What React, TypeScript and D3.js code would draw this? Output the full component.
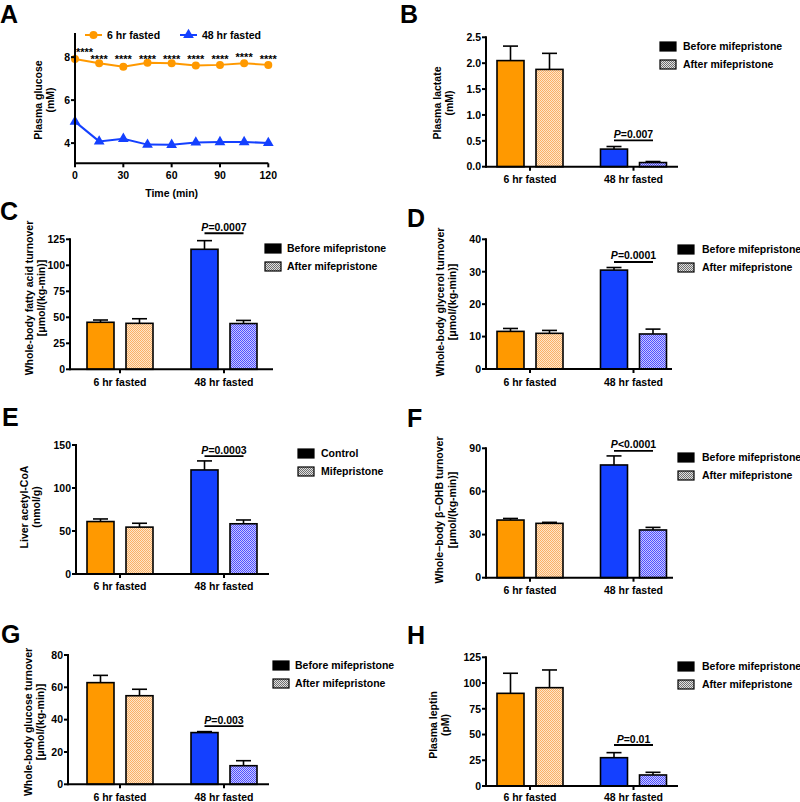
import React from "react";
import * as d3 from "d3";

// ---------- Panel A data ----------
const timePoints = [0, 15, 30, 45, 60, 75, 90, 105, 120];
const glucose6h = [7.91, 7.72, 7.55, 7.74, 7.72, 7.61, 7.64, 7.71, 7.64];
const glucose6hErr = [0.03, 0.03, 0.08, 0.03, 0.03, 0.04, 0.03, 0.03, 0.03];
const glucose48h = [5.0, 4.08, 4.2, 3.93, 3.92, 4.03, 4.05, 4.05, 4.01];
const starLevels = [8.35, 8.0, 8.0, 8.0, 8.0, 8.0, 8.0, 8.12, 8.0];
const glucoseTicks = [4, 6, 8];
const timeTicks = [0, 30, 60, 90, 120];
const seriesA = ["6 hr fasted", "48 hr fasted"];

// ---------- Bar panels data ----------
const groups = ["6 hr fasted", "48 hr fasted"];
const treatments = ["before", "after"];

const lactateBefore = [2.05, 0.34];
const lactateBeforeErr = [0.28, 0.05];
const lactateAfter = [1.88, 0.08];
const lactateAfterErr = [0.31, 0.02];

const faBefore = [45.2, 115.4];
const faBeforeErr = [2.2, 8.3];
const faAfter = [44.2, 44.0];
const faAfterErr = [4.4, 3.0];

const glycBefore = [11.6, 30.5];
const glycBeforeErr = [0.9, 0.8];
const glycAfter = [11.0, 10.8];
const glycAfterErr = [0.9, 1.5];

const acoaBefore = [61.0, 121.0];
const acoaBeforeErr = [3.0, 10.5];
const acoaAfter = [54.5, 58.4];
const acoaAfterErr = [4.5, 4.4];

const ohbBefore = [40.1, 78.4];
const ohbBeforeErr = [1.1, 6.3];
const ohbAfter = [37.8, 33.2];
const ohbAfterErr = [0.7, 1.8];

const glcBefore = [62.9, 32.0];
const glcBeforeErr = [4.5, 0.6];
const glcAfter = [54.8, 11.5];
const glcAfterErr = [4.0, 3.1];

const leptinBefore = [90.0, 27.5];
const leptinBeforeErr = [19.5, 4.9];
const leptinAfter = [95.5, 10.7];
const leptinAfterErr = [17.2, 2.6];

const ticksB = [0, 0.5, 1.0, 1.5, 2.0, 2.5];
const ticksC = [0, 25, 50, 75, 100, 125];
const ticksD = [0, 10, 20, 30, 40];
const ticksE = [0, 50, 100, 150];
const ticksF = [0, 30, 60, 90];
const ticksG = [0, 20, 40, 60, 80];
const ticksH = [0, 25, 50, 75, 100, 125];

const legendMife = ["Before mifepristone", "After mifepristone"];
const legendCtrl = ["Control", "Mifepristone"];

const pLabels = ["=0.007", "=0.0007", "=0.0001", "=0.0003", "<0.0001", "=0.003", "=0.01"];
const pLevels = [0.51, 130.8, 33, 137, 88.2, 36, 39.8];

const FONT = "'Liberation Sans', Arial, Helvetica, sans-serif";
const ORANGE = "#ff9900";
const BLUE = "#1440ff";

const panels = [
  { letter: "B", lx: 400, ly: 23, before: lactateBefore, beforeErr: lactateBeforeErr, after: lactateAfter, afterErr: lactateAfterErr,
    ticks: ticksB, fmt: ".1f", yMax: 2.5, axisX: 486, y0: 166.7, yTop: 37.3, xEnd: 678, c1: 530, c2: 633.5, catY: 182.5,
    legend: legendMife, legX: 660, legY: 42, legTx: 683, yLab: ["Plasma lactate", "(mM)"], yLabX: [437, 449], yLabCy: 103, p: pLabels[0], pLevel: pLevels[0] },
  { letter: "C", lx: 0, ly: 220, before: faBefore, beforeErr: faBeforeErr, after: faAfter, afterErr: faAfterErr,
    ticks: ticksC, fmt: "d", yMax: 125, axisX: 70, y0: 369.3, yTop: 239.3, xEnd: 273, c1: 120, c2: 224, catY: 385.5,
    legend: legendMife, legX: 265, legY: 244, legTx: 287, yLab: ["Whole-body fatty acid turnover", "[\u03bcmol/(kg-min)]"], yLabX: [29, 41], yLabCy: 298, p: pLabels[1], pLevel: pLevels[1] },
  { letter: "D", lx: 407, ly: 227, before: glycBefore, beforeErr: glycBeforeErr, after: glycAfter, afterErr: glycAfterErr,
    ticks: ticksD, fmt: "d", yMax: 40, axisX: 486, y0: 369, yTop: 239.3, xEnd: 672, c1: 530, c2: 633.5, catY: 385.5,
    legend: legendMife, legX: 678, legY: 245, legTx: 702, yLab: ["Whole-body glycerol turnover", "[\u03bcmol/(kg-min)]"], yLabX: [440, 452], yLabCy: 302, p: pLabels[2], pLevel: pLevels[2] },
  { letter: "E", lx: 2, ly: 426, before: acoaBefore, beforeErr: acoaBeforeErr, after: acoaAfter, afterErr: acoaAfterErr,
    ticks: ticksE, fmt: "d", yMax: 150, axisX: 76, y0: 574, yTop: 445, xEnd: 269, c1: 120, c2: 224, catY: 589.5,
    legend: legendCtrl, legX: 298, legY: 449, legTx: 321, yLab: ["Liver acetyl-CoA", "(nmol/g)"], yLabX: [24, 36], yLabCy: 507, p: pLabels[3], pLevel: pLevels[3] },
  { letter: "F", lx: 407, ly: 427, before: ohbBefore, beforeErr: ohbBeforeErr, after: ohbAfter, afterErr: ohbAfterErr,
    ticks: ticksF, fmt: "d", yMax: 90, axisX: 486, y0: 577.7, yTop: 448.3, xEnd: 673, c1: 530, c2: 633.5, catY: 594,
    legend: legendMife, legX: 678, legY: 453, legTx: 702, yLab: ["Whole\u2212body \u03b2\u2212OHB turnover", "[\u03bcmol/(kg-min)]"], yLabX: [439, 452], yLabCy: 510, p: pLabels[4], pLevel: pLevels[4] },
  { letter: "G", lx: 1, ly: 643, before: glcBefore, beforeErr: glcBeforeErr, after: glcAfter, afterErr: glcAfterErr,
    ticks: ticksG, fmt: "d", yMax: 80, axisX: 68, y0: 784.3, yTop: 655, xEnd: 269, c1: 120, c2: 224, catY: 800.5,
    legend: legendMife, legX: 273, legY: 661, legTx: 295, yLab: ["Whole-body glucose turnover", "[\u03bcmol/(kg-min)]"], yLabX: [28, 40], yLabCy: 722, p: pLabels[5], pLevel: pLevels[5] },
  { letter: "H", lx: 407, ly: 644, before: leptinBefore, beforeErr: leptinBeforeErr, after: leptinAfter, afterErr: leptinAfterErr,
    ticks: ticksH, fmt: "d", yMax: 125, axisX: 486, y0: 786, yTop: 657.3, xEnd: 678, c1: 530, c2: 633.5, catY: 801,
    legend: legendMife, legX: 678, legY: 662, legTx: 702, yLab: ["Plasma leptin", "(pM)"], yLabX: [433, 445], yLabCy: 725, p: pLabels[6], pLevel: pLevels[6] },
];

const FS = 10.5;

function YLabel({ lines, xs, cy }: any) {
  return (
    <g>
      {lines.map((t: string, i: number) => (
        <text key={i} transform={`translate(${xs[i] + 3.8},${cy}) rotate(-90)`} textAnchor="middle"
          fontFamily={FONT} fontWeight="bold" fontSize={FS} fill="#000">{t}</text>
      ))}
    </g>
  );
}

function BarPanel({ cfg }: any) {
  const y = d3.scaleLinear().domain([0, cfg.yMax]).range([cfg.y0, cfg.yTop]);
  const gx = d3.scalePoint<string>().domain(groups).range([cfg.c1, cfg.c2]);
  const inner = d3.scaleBand<string>().domain(treatments).range([-33, 33]).paddingInner(12 / 39);
  const bw = inner.bandwidth();
  const fmt = d3.format(cfg.fmt);
  const fills = [[ORANGE, "url(#patOrange)"], [BLUE, "url(#patBlue)"]];
  const bars: any[] = [];
  groups.forEach((g, gi) => {
    treatments.forEach((t, ti) => {
      const v = ti === 0 ? cfg.before[gi] : cfg.after[gi];
      const e = ti === 0 ? cfg.beforeErr[gi] : cfg.afterErr[gi];
      const x = (gx(g) as number) + (inner(t) as number);
      bars.push({ key: g + t, x, v, e, fill: fills[gi][ti] });
    });
  });
  const cB = (gx(groups[1]) as number) + (inner("before") as number) + bw / 2;
  const cA = (gx(groups[1]) as number) + (inner("after") as number) + bw / 2;
  const pY = y(cfg.pLevel);
  return (
    <g>
      <text x={cfg.lx} y={cfg.ly} fontFamily={FONT} fontWeight="bold" fontSize={25}>{cfg.letter}</text>
      {bars.map((b) => (
        <g key={b.key}>
          <line x1={b.x + bw / 2} x2={b.x + bw / 2} y1={y(b.v)} y2={y(b.v + b.e)} stroke="#000" strokeWidth={1.6} />
          <line x1={b.x + bw / 2 - 7.5} x2={b.x + bw / 2 + 7.5} y1={y(b.v + b.e)} y2={y(b.v + b.e)} stroke="#000" strokeWidth={1.6} />
          <rect x={b.x} y={y(b.v)} width={bw} height={cfg.y0 - y(b.v)} fill={b.fill} stroke="#000" strokeWidth={1.6} />
        </g>
      ))}
      <line x1={cfg.axisX} x2={cfg.axisX} y1={cfg.yTop - 1} y2={cfg.y0 + 1} stroke="#000" strokeWidth={2} />
      <line x1={cfg.axisX} x2={cfg.xEnd} y1={cfg.y0} y2={cfg.y0} stroke="#000" strokeWidth={2} />
      {cfg.ticks.map((t: number) => (
        <g key={t}>
          <line x1={cfg.axisX - 4} x2={cfg.axisX} y1={y(t)} y2={y(t)} stroke="#000" strokeWidth={2} />
          <text x={cfg.axisX - 5} y={y(t)} dy="0.36em" textAnchor="end" fontFamily={FONT} fontWeight="bold" fontSize={FS}>{fmt(t)}</text>
        </g>
      ))}
      {groups.map((g) => (
        <g key={g}>
          <line x1={gx(g)} x2={gx(g)} y1={cfg.y0} y2={cfg.y0 + 4} stroke="#000" strokeWidth={2} />
          <text x={gx(g)} y={cfg.catY} textAnchor="middle" fontFamily={FONT} fontWeight="bold" fontSize={FS}>{g}</text>
        </g>
      ))}
      <line x1={cB} x2={cA} y1={pY} y2={pY} stroke="#000" strokeWidth={1.8} />
      <text x={(cB + cA) / 2} y={pY - 2.5} textAnchor="middle" fontFamily={FONT} fontWeight="bold" fontSize={FS}>
        <tspan fontStyle="italic">P</tspan>{cfg.p}
      </text>
      {cfg.legend.map((l: string, i: number) => (
        <g key={l}>
          <rect x={cfg.legX} y={cfg.legY + i * 18} width={16} height={9} fill={i === 0 ? "#000" : "url(#patGray)"} stroke="#000" strokeWidth={1.2} />
          <text x={cfg.legTx} y={cfg.legY + i * 18 + 4.5} dy="0.36em" fontFamily={FONT} fontWeight="bold" fontSize={FS}>{l}</text>
        </g>
      ))}
      <YLabel lines={cfg.yLab} xs={cfg.yLabX} cy={cfg.yLabCy} />
    </g>
  );
}

function PanelA() {
  const x = d3.scaleLinear().domain([0, 120]).range([75, 268.3]);
  const y = d3.scaleLinear().domain([3.06, 9.1]).range([163.3, 33.5]);
  const line = d3.line<number>().x((_, i) => x(timePoints[i])).y((d) => y(d));
  const tri = d3.symbol().type(d3.symbolTriangle).size(50)();
  const y0 = 163.3;
  return (
    <g>
      <text x={0} y={23} fontFamily={FONT} fontWeight="bold" fontSize={25}>A</text>
      <path d={line(glucose6h) || ""} fill="none" stroke={ORANGE} strokeWidth={2} />
      <path d={line(glucose48h) || ""} fill="none" stroke={BLUE} strokeWidth={2} />
      {glucose6h.map((v, i) => (
        <g key={"o" + i}>
          <line x1={x(timePoints[i])} x2={x(timePoints[i])} y1={y(v - glucose6hErr[i])} y2={y(v + glucose6hErr[i])} stroke={ORANGE} strokeWidth={1.5} />
          <line x1={x(timePoints[i]) - 3} x2={x(timePoints[i]) + 3} y1={y(v - glucose6hErr[i])} y2={y(v - glucose6hErr[i])} stroke={ORANGE} strokeWidth={1.5} />
          <line x1={x(timePoints[i]) - 3} x2={x(timePoints[i]) + 3} y1={y(v + glucose6hErr[i])} y2={y(v + glucose6hErr[i])} stroke={ORANGE} strokeWidth={1.5} />
          <circle cx={x(timePoints[i])} cy={y(v)} r={4} fill={ORANGE} />
        </g>
      ))}
      {glucose48h.map((v, i) => (
        <path key={"b" + i} d={tri || ""} transform={`translate(${x(timePoints[i])},${y(v)})`} fill={BLUE} />
      ))}
      {starLevels.map((s, i) => (
        <text key={"s" + i} x={x(timePoints[i])} y={y(s) + 6} textAnchor={i === 0 ? "start" : "middle"} dx={i === 0 ? 1 : 0}
          fontFamily={FONT} fontWeight="bold" fontSize={11}>****</text>
      ))}
      <line x1={75} x2={75} y1={33} y2={y0 + 1} stroke="#000" strokeWidth={2} />
      <line x1={75} x2={268.3} y1={y0} y2={y0} stroke="#000" strokeWidth={2} />
      {glucoseTicks.map((t) => (
        <g key={t}>
          <line x1={71} x2={75} y1={y(t)} y2={y(t)} stroke="#000" strokeWidth={2} />
          <text x={70} y={y(t)} dy="0.36em" textAnchor="end" fontFamily={FONT} fontWeight="bold" fontSize={FS}>{t}</text>
        </g>
      ))}
      {timeTicks.map((t) => (
        <g key={t}>
          <line x1={x(t)} x2={x(t)} y1={y0} y2={y0 + 4} stroke="#000" strokeWidth={2} />
          <text x={x(t)} y={179} textAnchor="middle" fontFamily={FONT} fontWeight="bold" fontSize={FS}>{t}</text>
        </g>
      ))}
      <text x={x(60)} y={197} textAnchor="middle" fontFamily={FONT} fontWeight="bold" fontSize={FS}>Time (min)</text>
      <YLabel lines={["Plasma glucose", "(mM)"]} xs={[38, 50]} cy={100} />
      {/* legend */}
      <line x1={85} x2={102} y1={35} y2={35} stroke={ORANGE} strokeWidth={2} />
      <circle cx={93.5} cy={35} r={4} fill={ORANGE} />
      <text x={107} y={35} dy="0.36em" fontFamily={FONT} fontWeight="bold" fontSize={FS}>{seriesA[0]}</text>
      <line x1={180} x2={197} y1={35} y2={35} stroke={BLUE} strokeWidth={2} />
      <path d={tri || ""} transform="translate(188.5,35)" fill={BLUE} />
      <text x={202} y={35} dy="0.36em" fontFamily={FONT} fontWeight="bold" fontSize={FS}>{seriesA[1]}</text>
    </g>
  );
}

export default function App() {
  return (
    <svg width={800} height={802} style={{ position: "absolute", left: 0, top: 0, background: "#fff" }}>
      <defs>
        <pattern id="patOrange" width={2} height={2} patternUnits="userSpaceOnUse">
          <rect width={2} height={2} fill="#ffe6c8" />
          <rect width={1} height={1} fill="#f9b068" />
          <rect x={1} y={1} width={1} height={1} fill="#f9b068" />
        </pattern>
        <pattern id="patBlue" width={2} height={2} patternUnits="userSpaceOnUse">
          <rect width={2} height={2} fill="#c8c8ff" />
          <rect width={1} height={1} fill="#5050ff" />
          <rect x={1} y={1} width={1} height={1} fill="#5050ff" />
        </pattern>
        <pattern id="patGray" width={2} height={2} patternUnits="userSpaceOnUse">
          <rect width={2} height={2} fill="#e0e0e0" />
          <rect width={1} height={1} fill="#707070" />
          <rect x={1} y={1} width={1} height={1} fill="#707070" />
        </pattern>
      </defs>
      <rect width={800} height={802} fill="#fff" />
      <PanelA />
      {panels.map((p) => (
        <BarPanel key={p.letter} cfg={p} />
      ))}
    </svg>
  );
}
